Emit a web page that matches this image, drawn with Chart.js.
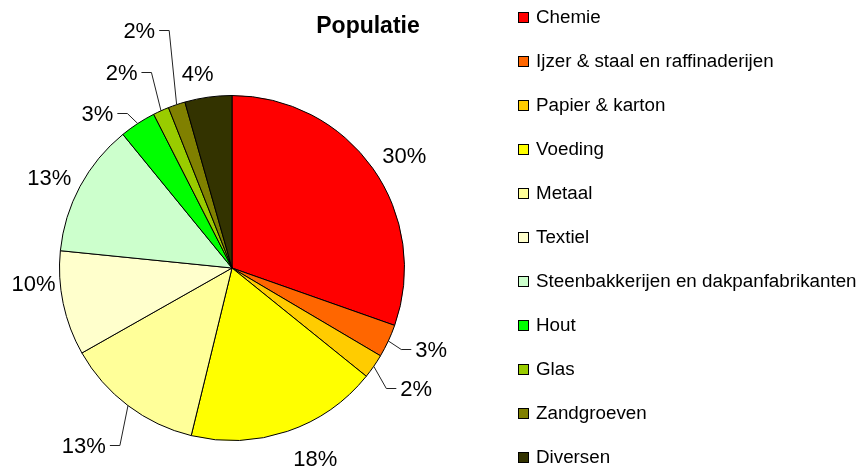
<!DOCTYPE html>
<html>
<head>
<meta charset="utf-8">
<script src="https://cdn.jsdelivr.net/npm/chart.js@4.4.0/dist/chart.umd.min.js"></script>
<style>
    html, body { margin: 0; padding: 0; background: #fff; }
    #wrap { width: 862px; height: 468px; }
</style>
</head>
<body>
<div id="wrap"><canvas id="pieChart" width="862" height="468"></canvas></div>
<script>
const chartTitle = 'Populatie';
const sectors = [
    'Chemie',
    'Ijzer & staal en raffinaderijen',
    'Papier & karton',
    'Voeding',
    'Metaal',
    'Textiel',
    'Steenbakkerijen en dakpanfabrikanten',
    'Hout',
    'Glas',
    'Zandgroeven',
    'Diversen'
];
const shares = [30.4, 3.1, 2.3, 18.0, 13.0, 9.8, 12.5, 3.4, 1.5, 1.6, 4.4];
const sectorColors = [
    '#FF0000', '#FF6600', '#FFCC00', '#FFFF00', '#FFFF99', '#FFFFCC',
    '#CCFFCC', '#00FF00', '#99CC00', '#808000', '#333300'
];

// label placement per slice: [distance from centre, angle shift (deg), leader line]
const labelSpots = [
    [206, 2.0, false],
    [215, -2.9, true],
    [220, -1.6, true],
    [208, -4.9, false],
    [231, 2.8, true],
    [199, 7.6, false],
    [204, -1.8, false],
    [205, -7.9, true],
    [225, -5.1, true],
    [255, -2.6, true],
    [198, -2.1, false]
];

const FONT = 'Arial, "Liberation Sans", sans-serif';

const calloutPlugin = {
    id: 'callouts',
    afterDatasetsDraw(chart) {
        const ctx = chart.ctx;
        const meta = chart.getDatasetMeta(0);
        const total = shares.reduce((a, b) => a + b, 0);
        ctx.save();
        ctx.font = '22px ' + FONT;
        ctx.fillStyle = '#000';
        ctx.strokeStyle = '#222';
        ctx.lineWidth = 1;
        ctx.textAlign = 'center';
        ctx.textBaseline = 'alphabetic';
        meta.data.forEach((arc, i) => {
            const {x, y, startAngle, endAngle, outerRadius} =
                arc.getProps(['x', 'y', 'startAngle', 'endAngle', 'outerRadius'], true);
            const mid = (startAngle + endAngle) / 2;
            const [dist, shift, leader] = labelSpots[i];
            const a = mid + shift * Math.PI / 180;
            const tx = x + dist * Math.cos(a);
            const ty = y + dist * Math.sin(a);
            const text = Math.round(shares[i] / total * 100) + '%';
            const w = ctx.measureText(text).width;
            ctx.fillText(text, tx, ty + 7.9);

            if (leader) {
                const side = tx < x ? 1 : -1;
                const edge = tx + side * w / 2;
                const ly = Math.round(ty) + 0.5;
                ctx.beginPath();
                ctx.moveTo(x + outerRadius * Math.cos(mid), y + outerRadius * Math.sin(mid));
                ctx.lineTo(edge + side * 14, ly);
                ctx.lineTo(edge + side * 4, ly);
                ctx.stroke();
            }
        });
        ctx.restore();
    }
};

const sideLegendPlugin = {
    id: 'sideLegend',
    afterDraw(chart) {
        const ctx = chart.ctx;
        const ds = chart.data.datasets[0];
        ctx.save();
        // title
        ctx.font = 'bold 23px ' + FONT;
        ctx.fillStyle = '#000';
        ctx.textAlign = 'center';
        ctx.textBaseline = 'alphabetic';
        ctx.fillText(chartTitle, 368, 33);

        // legend
        ctx.font = '18.8px ' + FONT;
        ctx.textAlign = 'left';
        ctx.lineWidth = 1;
        ctx.strokeStyle = '#000';
        chart.data.labels.forEach((lbl, i) => {
            const base = 23 + i * 44;
            ctx.fillStyle = ds.backgroundColor[i];
            ctx.fillRect(518.5, base - 10.5, 10, 10);
            ctx.strokeRect(518.5, base - 10.5, 10, 10);
            ctx.fillStyle = '#000';
            ctx.fillText(lbl, 536, base);
        });
        ctx.restore();
    }
};

const ctx = document.getElementById('pieChart').getContext('2d');
new Chart(ctx, {
    type: 'pie',
    data: {
        labels: sectors,
        datasets: [{
            data: shares,
            backgroundColor: sectorColors,
            borderColor: '#000',
            borderWidth: 1
        }]
    },
    options: {
        responsive: false,
        animation: false,
        layout: { padding: { left: 59, top: 95, right: 457, bottom: 27 } },
        plugins: {
            legend: { display: false },
            title: { display: false },
            tooltip: { enabled: false }
        }
    },
    plugins: [calloutPlugin, sideLegendPlugin]
});
</script>
</body>
</html>
